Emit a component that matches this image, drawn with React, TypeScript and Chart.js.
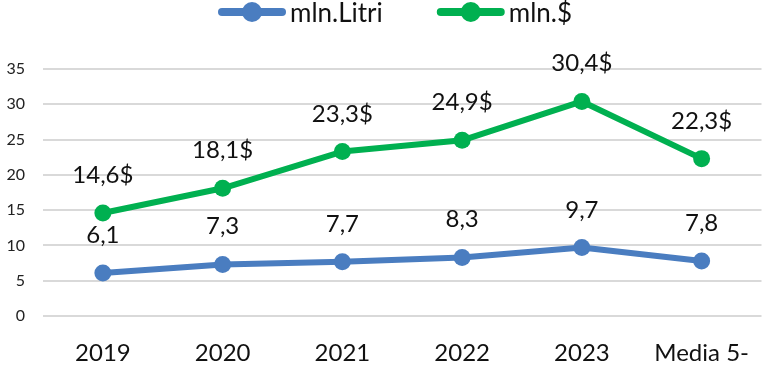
import React, { useEffect, useRef } from 'react';
import { Chart, registerables } from 'chart.js';

Chart.register(...registerables);

// ---- data ----
const categories = ['2019', '2020', '2021', '2022', '2023', 'Media 5-'];
const litri = [6.1, 7.3, 7.7, 8.3, 9.7, 7.8];
const dollars = [14.6, 18.1, 23.3, 24.9, 30.4, 22.3];
const seriesNames = ['mln.Litri', 'mln.$'];
const labelSuffixes = ['', '$'];
const yMin = 0;
const yMax = 35;
const yStep = 5;

const BLUE = '#4A7DC0';
const GREEN = '#00B050';
const FONT = 'Lato, Carlito, Calibri, sans-serif';

const fmt = (v: number) => v.toFixed(1).replace('.', ',');

const dataLabelPlugin = {
  id: 'dataLabels',
  afterDatasetsDraw(chart: any) {
    const ctx = chart.ctx;
    ctx.save();
    ctx.font = `24px ${FONT}`;
    ctx.fillStyle = '#111';
    ctx.textAlign = 'center';
    ctx.textBaseline = 'alphabetic';
    chart.data.datasets.forEach((ds: any, i: number) => {
      const meta = chart.getDatasetMeta(i);
      meta.data.forEach((pt: any, j: number) => {
        const v = ds.data[j] as number;
        ctx.fillText(fmt(v) + labelSuffixes[i], pt.x, pt.y - 30);
      });
    });
    ctx.restore();
  },
};

const legendPlugin = {
  id: 'lineLegend',
  afterDraw(chart: any) {
    const ctx = chart.ctx;
    ctx.save();
    ctx.font = `26px ${FONT}`;
    const symW = 68;
    const gapText = 4;
    const gapItem = 54;
    const y = 12;
    let x = 218;
    chart.data.datasets.forEach((ds: any) => {
      const tw = ctx.measureText(ds.label).width;
      ctx.strokeStyle = ds.borderColor;
      ctx.lineWidth = 8;
      ctx.lineCap = 'round';
      ctx.beginPath();
      ctx.moveTo(x + 4, y);
      ctx.lineTo(x + symW - 4, y);
      ctx.stroke();
      ctx.fillStyle = ds.borderColor;
      ctx.beginPath();
      ctx.arc(x + symW / 2, y, 10, 0, Math.PI * 2);
      ctx.fill();
      ctx.fillStyle = '#111';
      ctx.textAlign = 'left';
      ctx.textBaseline = 'middle';
      ctx.fillText(ds.label, x + symW + gapText, y + 2);
      x += symW + gapText + tw + gapItem;
    });
    ctx.restore();
  },
};

export default function App() {
  const ref = useRef<HTMLCanvasElement | null>(null);

  useEffect(() => {
    document.body.style.margin = '0';
    if (!ref.current) return;
    const chart = new Chart(ref.current, {
      type: 'line',
      data: {
        labels: categories,
        datasets: [
          {
            label: seriesNames[0],
            data: litri,
            borderColor: BLUE,
            backgroundColor: BLUE,
            pointBackgroundColor: BLUE,
            borderWidth: 6,
            pointRadius: 8.5,
            pointBorderWidth: 0,
            tension: 0,
            borderCapStyle: 'round',
            borderJoinStyle: 'round',
          },
          {
            label: seriesNames[1],
            data: dollars,
            borderColor: GREEN,
            backgroundColor: GREEN,
            pointBackgroundColor: GREEN,
            borderWidth: 6,
            pointRadius: 8.5,
            pointBorderWidth: 0,
            tension: 0,
            borderCapStyle: 'round',
            borderJoinStyle: 'round',
          },
        ],
      },
      options: {
        responsive: false,
        animation: false,
        devicePixelRatio: 1,
        layout: { padding: { top: 69, right: 7, left: 0, bottom: 0 } },
        plugins: {
          legend: { display: false },
          tooltip: { enabled: false },
          title: { display: false },
        },
        scales: {
          x: {
            type: 'category',
            offset: true,
            grid: { display: false, drawTicks: false },
            border: { display: false },
            ticks: {
              padding: 23,
              color: '#111',
              font: { family: FONT, size: 24 },
              maxRotation: 0,
              autoSkip: false,
            },
            afterFit(scale: any) {
              scale.height = 57;
              scale.paddingLeft = 0;
              scale.paddingRight = 0;
            },
          },
          y: {
            min: yMin,
            max: yMax,
            grid: { color: '#D9D9D9', lineWidth: 2, drawTicks: false },
            border: { display: false },
            ticks: {
              stepSize: yStep,
              padding: 18,
              color: '#222',
              font: { family: FONT, size: 16 },
            },
            afterFit(scale: any) {
              scale.width = 43;
              scale.paddingTop = 0;
              scale.paddingBottom = 0;
            },
          },
        },
      },
      plugins: [dataLabelPlugin, legendPlugin],
    });
    return () => chart.destroy();
  }, []);

  return (
    <div style={{ width: 770, height: 373, background: '#fff' }}>
      <canvas ref={ref} width={770} height={373} />
    </div>
  );
}
